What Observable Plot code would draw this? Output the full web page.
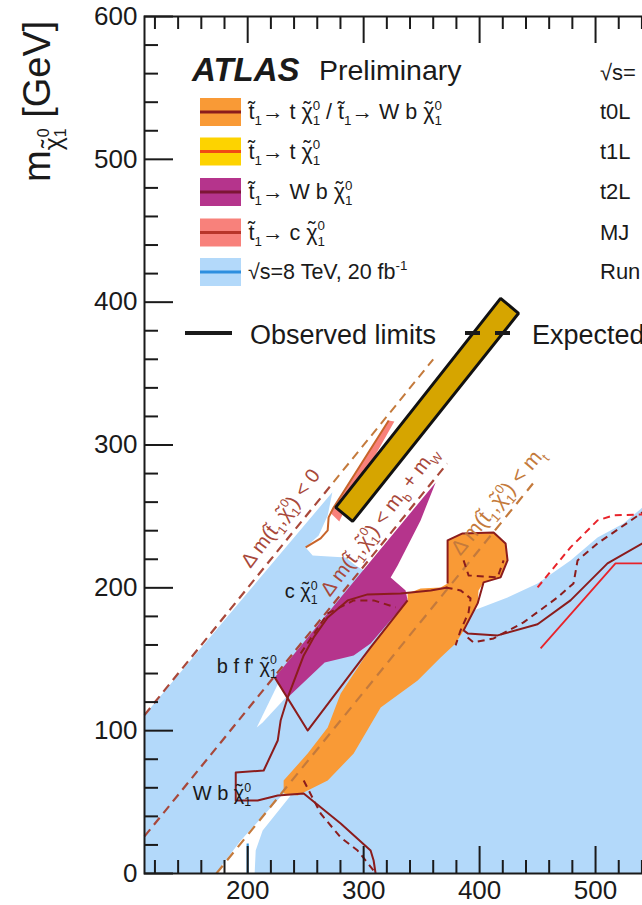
<!DOCTYPE html>
<html><head><meta charset="utf-8">
<script src="https://cdn.jsdelivr.net/npm/d3@7"></script>
<script src="https://cdn.jsdelivr.net/npm/@observablehq/plot@0.6"></script>
<style>
html,body{margin:0;padding:0;background:#fff;overflow:hidden;width:642px;height:905px}
#chart{position:relative;width:642px;height:905px;overflow:hidden}
#chart svg{max-width:none!important}
</style></head><body><div id="chart"></div>
<script>
// ---------- tick values ----------
const xMajorTicks = [200, 300, 400, 500, 600];
const xMinorTicks = [120,140,160,180,220,240,260,280,320,340,360,380,420,440,460,480,520,540,560,580];
const yMajorTicks = [0, 100, 200, 300, 400, 500, 600];
const yMinorTicks = [20,40,60,80,120,140,160,180,220,240,260,280,320,340,360,380,420,440,460,480,520,540,560,580];

// ---------- excluded regions (m_stop, m_neutralino) in GeV ----------
const run1Region = [[111,0],[111,111],[273,267],[269.0,250.7],[261.2,236.7],[250.0,228.3],[256.0,222.7],[284.5,221.3],[293.1,215.7],[314.7,205.2],[337.9,192.6],[372.4,194.7],[392.2,182.8],[394.8,184.2],[424.1,193.3],[450.0,203.1],[478.4,219.2],[501.7,235.3],[524.1,245.1],[540.5,256.3],[600,290],[600,0]];
const gapSliver = [[226.7,133.8],[235.3,125.4],[212.9,105.7],[207.8,102.2]];
const gapWedge = [[172.4,0],[194.0,23.1],[231.0,56.0],[237.1,54.6],[212.9,30.1],[206.9,16.1],[206.0,0]];
const wbRegion = [[223.3,137.3],[362.1,273.8],[349.1,247.2],[329.3,215.7],[323.3,207.3],[336.2,198.2],[337.9,191.2],[306.0,161.1],[291.4,152.7],[266.4,147.8],[234.5,123.2]];
const tRegion = [[231.0,56.0],[243.1,54.6],[269.0,65.1],[291.4,84.0],[314.7,116.2],[346.6,135.2],[366.4,151.3],[379.3,161.1],[386.2,170.2],[398.3,189.1],[399.1,198.2],[403.4,203.8],[418.1,207.3],[424.1,219.2],[422.4,231.1],[412.1,238.8],[385.3,238.1],[372.4,233.2],[372.4,203.1],[366.4,200.3],[349.1,199.6],[337.9,196.1],[337.9,191.2],[308.6,161.1],[280.2,126.1],[269.0,102.2],[251.7,84.0],[231.0,65.1]];
const cRegion = [[271.0,252.8],[321.6,317.2],[326.5,316.5],[285.5,257.7],[279.0,246.5]];
const highlightBar = [[275.9,256.3],[290.5,246.5],[433.6,392.2],[418.1,402.7]];

// ---------- kinematic limits ----------
const dmZeroLow = [[111,111],[274,274]];
const dmZeroHigh = [[274,274],[360,360]];
const dmBW = [[111,26],[372,287]];
const dmTop = [[173,0],[446,273]];

// ---------- observed / expected contours ----------
const obsA = [[310.3,0],[308.6,9.1],[306.0,16.1],[280.2,35.0],[248.3,56.0],[225.9,54.6],[208.6,51.1],[189.7,51.1],[189.7,70.7],[213.8,72.1],[225.9,93.1],[228.4,107.1],[234.5,123.2],[248.3,152.7],[256.9,165.3],[269.0,179.3],[286.2,191.2],[303.4,195.4],[331.9,196.1],[357.8,198.2],[372.4,200.3]];
const obsB = [[223.3,137.3],[251.7,100.1],[306.0,158.3],[337.9,191.2]];
const obsC = [[372.4,203.1],[372.4,233.2],[385.3,238.1],[412.1,238.8],[422.4,231.1],[424.1,219.2],[418.1,207.3],[403.4,203.8],[398.3,189.1],[386.2,170.2],[389.7,168.1],[415.5,166.7],[450.0,174.5],[478.4,191.2],[510.3,217.1],[540.5,231.1],[560,240]];
const expD = [[389.7,165.3],[394.8,161.8],[412.1,164.6],[437.9,175.8],[467.2,193.3],[481.0,203.1],[484.5,219.2],[501.7,231.1],[540.5,252.8],[560,262]];
const expG = [[245.7,154.1],[269.0,182.1],[291.4,191.2],[308.6,191.2],[327.6,186.3]];
const expH1 = [[370.7,200.3],[383.6,198.2],[392.2,192.6],[390.5,182.8],[383.6,170.2],[379.3,159.7]];
const expH2 = [[386.2,219.2],[390.5,208.7],[415.5,207.3],[420.7,219.2]];
const expI = [[248.3,65.1],[262.9,42.0],[280.2,25.2],[294.8,16.1],[308.6,2.1]];
const redObs = [[452.6,157.6],[517.2,217.1],[560,217.1]];
const redExp = [[450.0,200.3],[478.4,228.3],[501.7,247.2],[515.5,250.7],[560,252]];
const cObs = [[250.0,228.3],[262.9,234.6],[269.0,240.2],[269.8,249.3],[274.1,256.3],[321.6,317.2]];
const run1Low = [[200,0],[200,21]];

// ---------- labels (markup: ~{a} tilde, _{a} sub, ^{a} sup) ----------
const T = "~{t}", X = "~{\u03c7}";
const processLabels = [
  {x: 231.9, y: 197.1, text: `c ${X}_{1}^{0}`},
  {x: 173.3, y: 145.2, text: `b f f' ${X}_{1}^{0}`},
  {x: 152.6, y: 55.6, text: `W b ${X}_{1}^{0}`}
];
const kinLabelsDark = [
  {x: 228.4, y: 248.6, text: `\u0394 m(${T}_{1},${X}_{1}^{0}) < 0`},
  {x: 313.5, y: 246.5, text: `\u0394 m(${T}_{1},${X}_{1}^{0}) < m_{b} + m_{W}`}
];
const kinLabelsOrange = [
  {x: 415.5, y: 260.5, text: `\u0394 m(${T}_{1},${X}_{1}^{0}) < m_{t}`}
];
const legendLabels = [
  `${T}_{1}\u2192 t ${X}_{1}^{0} / ${T}_{1}\u2192 W b ${X}_{1}^{0}`,
  `${T}_{1}\u2192 t ${X}_{1}^{0}`,
  `${T}_{1}\u2192 W b ${X}_{1}^{0}`,
  `${T}_{1}\u2192 c ${X}_{1}^{0}`,
  `\u221As=8 TeV, 20 fb^{-1}`
];
const legendTags = ["t0L", "t1L", "t2L", "MJ", "Run"];

// ---------- styles ----------
const FONT = "'Liberation Sans', Arial, Helvetica, sans-serif";
const C = {blue:"#b3d9fa", orange:"#f99a36", yellow:"#fdd300", purple:"#b5348c", pink:"#f8817b",
  darkRed:"#8b1c1c", red:"#e8232a", kinDark:"#a8483a", kinOrange:"#c47a3c", cLine:"#c8642a",
  run1Line:"#3898de", bar:"#d6a500", ink:"#1a1a1a"};
const swatchFill = [C.orange, C.yellow, C.purple, C.pink, C.blue];
const swatchLine = [C.darkRed, "#f04a14", "#7d1535", "#b8352a", "#2d8fdf"];

const innerW = 721 - 144 - 10, innerH = 905 - 16 - 32;
const P = d => d[0], Q = d => d[1];
const poly = (data, fill) => Plot.line(data, {x: P, y: Q, fill, stroke: "none"});
const path = (data, stroke, w, dash) => Plot.line(data, {x: P, y: Q, stroke, strokeWidth: w, strokeDasharray: dash, strokeLinecap: "butt"});

const chart = Plot.plot({
  width: 721, height: 905,
  marginLeft: 144, marginRight: 10, marginTop: 16, marginBottom: 32,
  style: {fontFamily: FONT, fontSize: "26px", color: C.ink, background: "white", maxWidth: "none"},
  x: {domain: [111, 600], ticks: xMajorTicks, tickSize: 0, tickPadding: 7, label: null},
  y: {domain: [0, 600], ticks: yMajorTicks, tickSize: 0, tickPadding: 7, label: null},
  marks: [
    poly(run1Region, C.blue),
    poly(gapWedge, "white"),
    poly(gapSliver, "white"),
    path(run1Low, C.run1Line, 2.2),
    poly(wbRegion, C.purple),
    poly(tRegion, C.orange),
    poly(cRegion, C.pink),
    path(dmZeroLow, C.kinDark, 2.2, "9,6"),
    path(dmZeroHigh, C.kinOrange, 2, "9,6"),
    path(dmBW, C.kinDark, 2.2, "9,6"),
    path(dmTop, C.kinOrange, 2.2, "10,7"),
    path(obsA, C.darkRed, 2),
    path(obsB, C.darkRed, 2),
    path(obsC, C.darkRed, 2),
    path(expD, C.darkRed, 2, "7,5"),
    path(expG, C.darkRed, 2, "7,5"),
    path(expH1, C.darkRed, 2, "7,5"),
    path(expH2, C.darkRed, 2, "7,5"),
    path(expI, C.darkRed, 2, "7,5"),
    path(redObs, C.red, 1.8),
    path(redExp, C.red, 2, "7,5"),
    path(cObs, C.cLine, 2),
    Plot.text(processLabels, {x: "x", y: "y", text: "text", fontSize: 20, fill: C.ink, textAnchor: "start"}),
    Plot.text(kinLabelsDark, {x: "x", y: "y", text: "text", fontSize: 20, fill: C.kinDark, rotate: -53}),
    Plot.text(kinLabelsOrange, {x: "x", y: "y", text: "text", fontSize: 21, fill: C.kinOrange, rotate: -50}),
    Plot.line(highlightBar, {x: P, y: Q, fill: C.bar, stroke: "#111", strokeWidth: 3, curve: "linear-closed", strokeLinejoin: "miter"}),
    Plot.tickX(xMajorTicks, {x: d => d, stroke: C.ink, strokeWidth: 2, insetTop: innerH - 27}),
    Plot.tickX(xMinorTicks, {x: d => d, stroke: C.ink, strokeWidth: 2, insetTop: innerH - 13}),
    Plot.tickX(xMajorTicks, {x: d => d, stroke: C.ink, strokeWidth: 2, insetBottom: innerH - 27}),
    Plot.tickX(xMinorTicks, {x: d => d, stroke: C.ink, strokeWidth: 2, insetBottom: innerH - 13}),
    Plot.tickY(yMajorTicks, {y: d => d, stroke: C.ink, strokeWidth: 2, insetRight: innerW - 29}),
    Plot.tickY(yMinorTicks, {y: d => d, stroke: C.ink, strokeWidth: 2, insetRight: innerW - 14}),
    Plot.tickY(yMajorTicks, {y: d => d, stroke: C.ink, strokeWidth: 2, insetLeft: innerW - 29}),
    Plot.tickY(yMinorTicks, {y: d => d, stroke: C.ink, strokeWidth: 2, insetLeft: innerW - 14}),
    Plot.frame({stroke: C.ink, strokeWidth: 2})
  ]
});
document.getElementById("chart").appendChild(chart);

// ---------- overlay text: legend, axis title ----------
const svg = d3.select(chart);
const g = svg.append("g").attr("font-family", FONT).attr("fill", C.ink).attr("text-anchor", "start");
g.append("text").attr("x", 192).attr("y", 81).attr("font-size", 33).attr("font-weight", "bold").attr("font-style", "italic").text("ATLAS");
g.append("text").attr("x", 319).attr("y", 80).attr("font-size", 28.5).text("Preliminary");
g.append("text").attr("x", 600).attr("y", 80).attr("font-size", 22).text("\u221As=");
const rowC = [112, 151.5, 192, 232.5, 272];
legendLabels.forEach((lab, i) => {
  g.append("rect").attr("x", 200).attr("y", rowC[i] - 14).attr("width", 41).attr("height", 28).attr("fill", swatchFill[i]);
  g.append("line").attr("x1", 200).attr("x2", 241).attr("y1", rowC[i]).attr("y2", rowC[i]).attr("stroke", swatchLine[i]).attr("stroke-width", 3);
  g.append("text").attr("x", 248).attr("y", rowC[i] + 7).attr("font-size", 21.5).text(lab);
  g.append("text").attr("x", 600).attr("y", rowC[i] + 7).attr("font-size", 22).text(legendTags[i]);
});
g.append("line").attr("x1", 185).attr("x2", 232).attr("y1", 333).attr("y2", 333).attr("stroke", C.ink).attr("stroke-width", 4);
g.append("text").attr("x", 250).attr("y", 344).attr("font-size", 27).text("Observed limits");
g.append("line").attr("x1", 465).attr("x2", 510).attr("y1", 333).attr("y2", 333).attr("stroke", C.ink).attr("stroke-width", 4).attr("stroke-dasharray", "15,15");
g.append("text").attr("x", 532).attr("y", 344).attr("font-size", 27).text("Expected");

// y axis title: m_{chi~_1^0} [GeV]
const yl = svg.append("text").attr("transform", "translate(50,182) rotate(-90)").attr("text-anchor", "start")
  .attr("font-family", FONT).attr("font-size", 38).attr("fill", C.ink);
yl.append("tspan").text("m");
const chiT = yl.append("tspan").attr("font-size", 25).attr("dy", 12).text("\u03c7");
const chiW = chiT.node().getComputedTextLength();
const tilT = yl.append("tspan").attr("font-size", 25).attr("dy", -3).text("\u02DC");
const tilW = tilT.node().getComputedTextLength();
tilT.attr("dx", -(chiW + tilW) / 2);
const supT = yl.append("tspan").attr("font-size", 16).attr("dx", (chiW - tilW) / 2).attr("dy", -10).text("0");
const supW = supT.node().getComputedTextLength();
yl.append("tspan").attr("font-size", 16).attr("dx", -supW).attr("dy", 17).text("1");
yl.append("tspan").attr("dy", -16).text(" [GeV]");

// ---------- sub/superscript/tilde markup ----------
const SVGNS = "http://www.w3.org/2000/svg";
function texify(el) {
  const raw = el.textContent;
  if (!/[_^~]\{/.test(raw)) return;
  const fs = parseFloat(getComputedStyle(el).fontSize) || 20;
  while (el.firstChild) el.removeChild(el.firstChild);
  const parts = raw.split(/(_\{[^}]*\}\^\{[^}]*\}|_\{[^}]*\}|\^\{[^}]*\}|~\{[^}]*\})/).filter(s => s);
  const small = fs * 0.62, up = -fs * 0.42, down = fs * 0.3;
  let cur = 0, pend = 0;
  const add = (t, size, off, dx) => {
    const ts = document.createElementNS(SVGNS, "tspan");
    ts.textContent = t;
    if (size) ts.setAttribute("font-size", size);
    if (off !== cur) ts.setAttribute("dy", off - cur);
    const d = (dx || 0) + pend; pend = 0;
    if (d) ts.setAttribute("dx", d);
    el.appendChild(ts); cur = off; return ts;
  };
  for (const p of parts) {
    let m;
    if ((m = p.match(/^_\{([^}]*)\}\^\{([^}]*)\}$/))) {
      const s = add(m[2], small, up);
      const w = s.getComputedTextLength();
      add(m[1], small, down, -w);
    } else if ((m = p.match(/^_\{([^}]*)\}$/))) add(m[1], small, down);
    else if ((m = p.match(/^\^\{([^}]*)\}$/))) add(m[1], small, up);
    else if ((m = p.match(/^~\{([^}]*)\}$/))) {
      const b = add(m[1], null, 0);
      const w = b.getComputedTextLength();
      const t = add("\u02DC", null, -fs * 0.1);
      const wt = t.getComputedTextLength();
      t.setAttribute("dx", -(w + wt) / 2);
      pend = (w - wt) / 2;
    }
    else add(p, null, 0);
  }
}
chart.querySelectorAll("text").forEach(texify);
</script></body></html>
